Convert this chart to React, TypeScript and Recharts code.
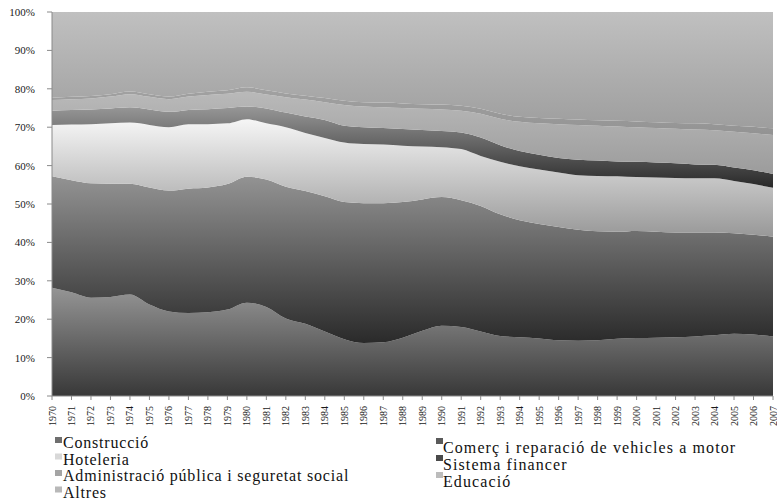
import React from 'react';
import { AreaChart, Area, XAxis, YAxis } from 'recharts';

// Share of each sector in GVA, 1970-2007 (percent, each year sums to ~100)
const YEARS = [
  '1970', '1971', '1972', '1973', '1974', '1975', '1976', '1977', '1978', '1979',
  '1980', '1981', '1982', '1983', '1984', '1985', '1986', '1987', '1988', '1989',
  '1990', '1991', '1992', '1993', '1994', '1995', '1996', '1997', '1998', '1999',
  '2000', '2001', '2002', '2003', '2004', '2005', '2006', '2007',
];

const CONSTRUCCIO = [
  28.2, 27.0, 25.6, 25.8, 26.4, 23.8, 22.0, 21.6, 21.8, 22.5,
  24.3, 23.2, 20.2, 18.8, 16.8, 14.8, 13.8, 14.0, 15.2, 17.0,
  18.3, 18.0, 16.8, 15.6, 15.3, 15.0, 14.5, 14.4, 14.5, 14.9,
  15.1, 15.2, 15.3, 15.5, 15.8, 16.2, 16.0, 15.5,
];

const COMERC = [
  29.0, 29.2, 29.8, 29.5, 28.9, 30.5, 31.5, 32.4, 32.5, 32.7,
  32.8, 33.2, 34.3, 34.6, 35.2, 35.7, 36.4, 36.2, 35.3, 34.2,
  33.5, 33.0, 32.7, 31.7, 30.5, 29.8, 29.5, 28.9, 28.4, 27.9,
  27.9, 27.6, 27.3, 27.1, 26.8, 26.2, 26.0, 26.0,
];

const HOTELERIA = [
  13.4, 14.5, 15.4, 15.7, 15.9, 16.3, 16.5, 16.8, 16.5, 15.8,
  15.0, 14.6, 15.5, 15.1, 15.2, 15.5, 15.4, 15.3, 14.7, 13.8,
  13.0, 13.3, 13.0, 13.7, 14.0, 14.2, 14.2, 14.2, 14.4, 14.4,
  14.0, 14.1, 14.2, 14.1, 14.1, 13.6, 13.2, 12.7,
];

const SISTEMA_FINANCER = [
  3.7, 3.8, 3.8, 3.9, 4.0, 4.0, 4.0, 3.7, 3.9, 4.0,
  3.3, 3.9, 3.8, 4.3, 4.7, 4.4, 4.4, 4.3, 4.3, 4.3,
  4.2, 4.3, 4.8, 4.3, 4.0, 3.8, 3.8, 4.0, 4.0, 3.9,
  4.0, 3.9, 3.8, 3.6, 3.5, 3.5, 3.6, 3.6,
];

const ADMINISTRACIO = [
  2.8, 2.8, 2.9, 3.1, 3.4, 3.3, 3.3, 3.5, 3.7, 3.7,
  3.8, 3.6, 4.0, 4.4, 4.6, 5.4, 5.4, 5.4, 5.5, 5.5,
  5.6, 5.7, 6.2, 6.9, 7.6, 8.2, 8.8, 9.1, 9.1, 9.1,
  9.0, 9.0, 9.0, 9.1, 9.0, 9.3, 9.6, 10.2,
];

const EDUCACIO = [
  0.6, 0.6, 0.6, 0.6, 0.7, 0.7, 0.7, 0.7, 0.8, 0.9,
  1.2, 1.1, 1.0, 1.0, 1.1, 1.1, 1.1, 1.2, 1.2, 1.2,
  1.3, 1.3, 1.3, 1.3, 1.3, 1.4, 1.4, 1.4, 1.4, 1.5,
  1.5, 1.5, 1.5, 1.6, 1.6, 1.6, 1.7, 1.7,
];

const ALTRES = [
  22.3, 22.1, 21.9, 21.4, 20.7, 21.4, 22.0, 21.3, 20.8, 20.4,
  19.6, 20.4, 21.2, 21.8, 22.4, 23.1, 23.5, 23.6, 23.8, 24.0,
  24.1, 24.4, 25.2, 26.5, 27.3, 27.6, 27.8, 28.0, 28.2, 28.3,
  28.5, 28.7, 28.9, 29.0, 29.2, 29.6, 29.9, 30.3,
];

const PERCENT_TICKS = [0, 0.1, 0.2, 0.3, 0.4, 0.5, 0.6, 0.7, 0.8, 0.9, 1];

// stacking order, bottom to top
const SERIES = [
  { key: 'construccio', name: 'Construcció', values: CONSTRUCCIO },
  { key: 'comerc', name: 'Comerç i reparació de vehicles a motor', values: COMERC },
  { key: 'hoteleria', name: 'Hoteleria', values: HOTELERIA },
  { key: 'financer', name: 'Sistema financer', values: SISTEMA_FINANCER },
  { key: 'administracio', name: 'Administració pública i seguretat social', values: ADMINISTRACIO },
  { key: 'educacio', name: 'Educació', values: EDUCACIO },
  { key: 'altres', name: 'Altres', values: ALTRES },
];

// gradient top / bottom and legend swatch colours
const COLORS: Record<string, { top: string; bottom: string; swatch: string }> = {
  construccio: { top: '#959595', bottom: '#383838', swatch: '#6e6e6e' },
  comerc: { top: '#939393', bottom: '#2a2a2a', swatch: '#5a5a5a' },
  hoteleria: { top: '#f6f6f6', bottom: '#989898', swatch: '#d8d8d8' },
  financer: { top: '#979797', bottom: '#282828', swatch: '#4a4a4a' },
  administracio: { top: '#b9b9b9', bottom: '#9c9c9c', swatch: '#a4a4a4' },
  educacio: { top: '#a2a2a2', bottom: '#939393', swatch: '#bcbcbc' },
  altres: { top: '#c0c0c0', bottom: '#9e9e9e', swatch: '#b8b8b8' },
};

const FONT = 'Liberation Serif, DejaVu Serif, Times New Roman, serif';

const chartData = YEARS.map((year, i) => {
  const row: Record<string, string | number> = { year };
  SERIES.forEach((s) => {
    row[s.key] = s.values[i];
  });
  return row;
});

const YearTick = ({ x, y, payload }: any) => (
  <g transform={`translate(${x},${y})`}>
    <text
      transform="rotate(-90)"
      x={-4}
      y={3.5}
      textAnchor="end"
      fontSize={10}
      style={{ fontFamily: FONT }}
      fill="#1a1a1a"
    >
      {payload.value}
    </text>
  </g>
);

const Legend7: React.FC = () => {
  const left = SERIES.filter((_, i) => i % 2 === 0);
  const right = SERIES.filter((_, i) => i % 2 === 1);
  return (
    <svg
      width={777}
      height={500}
      style={{ position: 'absolute', left: 0, top: 0, pointerEvents: 'none' }}
    >
      {left.map((s, i) => (
        <g key={s.key}>
          <rect x={55} y={437 + i * 16.5} width={7} height={6} fill={COLORS[s.key].swatch} />
          <text
            x={63}
            y={448 + i * 16.5}
            fontSize={16}
            letterSpacing={0.8}
            style={{ fontFamily: FONT }}
            fill="#111"
          >
            {s.name}
          </text>
        </g>
      ))}
      {right.map((s, i) => (
        <g key={s.key}>
          <rect x={436} y={438 + i * 17} width={7} height={6} fill={COLORS[s.key].swatch} />
          <text
            x={443}
            y={453 + i * 17}
            fontSize={16}
            letterSpacing={1.1}
            style={{ fontFamily: FONT }}
            fill="#111"
          >
            {s.name}
          </text>
        </g>
      ))}
    </svg>
  );
};

export default function App() {
  return (
    <div style={{ position: 'absolute', left: 0, top: 0, width: 777, height: 500, background: '#fff' }}>
      <AreaChart
        width={777}
        height={500}
        data={chartData}
        stackOffset="expand"
        margin={{ top: 12, right: 4, bottom: 74, left: 0 }}
        style={{ fontFamily: FONT }}
      >
        <defs>
          {SERIES.map((s) => (
            <linearGradient key={s.key} id={`grad-${s.key}`} x1="0" y1="0" x2="0" y2="1">
              <stop offset="0%" stopColor={COLORS[s.key].top} />
              <stop offset="100%" stopColor={COLORS[s.key].bottom} />
            </linearGradient>
          ))}
        </defs>
        <XAxis
          dataKey="year"
          interval={0}
          height={30}
          tickSize={4}
          tickMargin={2}
          tick={<YearTick />}
          axisLine={{ stroke: '#8a8a8a' }}
          tickLine={{ stroke: '#8a8a8a' }}
        />
        <XAxis xAxisId="top" dataKey="year" orientation="top" height={0} tick={false} tickLine={false} axisLine={{ stroke: '#a8a8a8' }} />
        <YAxis
          width={52}
          ticks={PERCENT_TICKS}
          domain={[0, 1]}
          tickSize={5}
          tickMargin={12}
          tickFormatter={(v: number) => `${Math.round(v * 100)}%`}
          tick={{ fontSize: 11, fill: '#1a1a1a', style: { fontFamily: FONT } }}
          axisLine={{ stroke: '#8a8a8a' }}
          tickLine={{ stroke: '#8a8a8a' }}
        />
        <YAxis yAxisId="right" orientation="right" width={0} tick={false} tickLine={false} axisLine={{ stroke: '#d0d0d0' }} />
        {SERIES.map((s) => (
          <Area
            key={s.key}
            type="monotone"
            dataKey={s.key}
            name={s.name}
            stackId="1"
            stroke="none"
            fill={`url(#grad-${s.key})`}
            fillOpacity={1}
            isAnimationActive={false}
          />
        ))}
      </AreaChart>
      <Legend7 />
    </div>
  );
}
